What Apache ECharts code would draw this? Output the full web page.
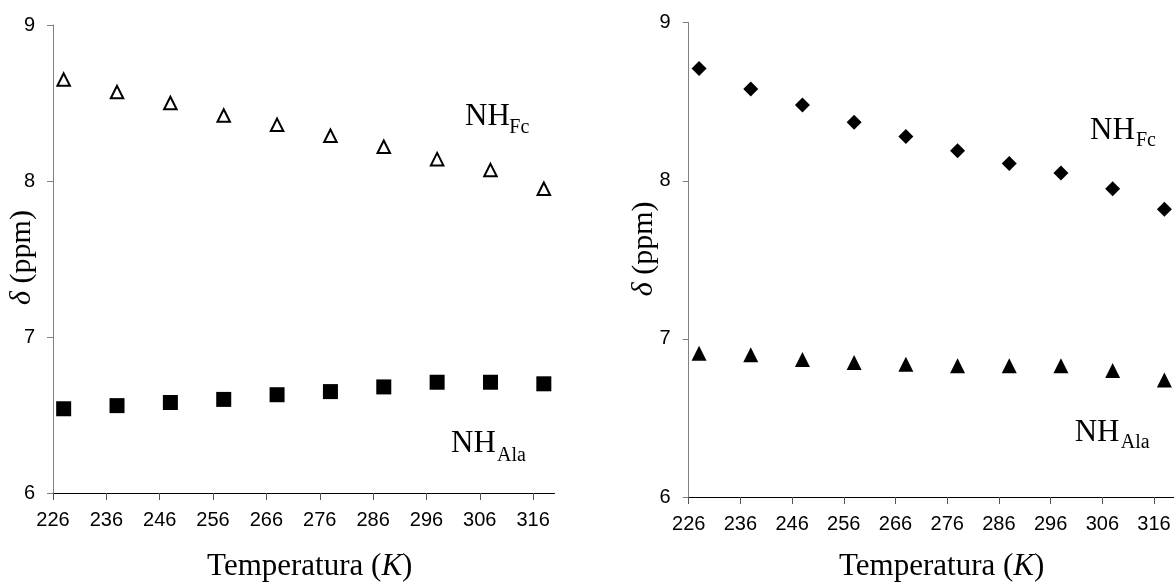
<!DOCTYPE html>
<html>
<head>
<meta charset="utf-8">
<script src="https://cdn.jsdelivr.net/npm/echarts@6/dist/echarts.min.js"></script>
<style>
html,body{margin:0;padding:0;background:#fff;}
#c{width:1174px;height:583px;}
</style>
</head>
<body>
<div id="c"></div>
<script>
// ---- data ----
const temps = [228, 238, 248, 258, 268, 278, 288, 298, 308, 318];
const xTicks = [226, 236, 246, 256, 266, 276, 286, 296, 306, 316];
const yTicks = [6, 7, 8, 9];
const leftFc  = [8.65, 8.57, 8.50, 8.42, 8.36, 8.29, 8.22, 8.14, 8.07, 7.95];
const leftAla = [6.54, 6.56, 6.58, 6.60, 6.63, 6.65, 6.68, 6.71, 6.71, 6.70];
const rightFc  = [8.71, 8.58, 8.48, 8.37, 8.28, 8.19, 8.11, 8.05, 7.95, 7.82];
const rightAla = [6.91, 6.90, 6.87, 6.85, 6.84, 6.83, 6.83, 6.83, 6.80, 6.74];

const pairs = (ys) => temps.map((t, i) => [t, ys[i]]);

const serif = 'Liberation Serif, Times New Roman, serif';
const sans = 'Liberation Sans, Arial, sans-serif';

function xAxis(gridIndex, gap, pad) {
  return {
    type: 'value', gridIndex, min: 226, max: 320,
    axisLine: { lineStyle: { color: '#000', width: 1 } },
    axisTick: { show: true, length: 7, customValues: xTicks, lineStyle: { color: '#555' } },
    axisLabel: { customValues: xTicks, margin: 17, fontSize: 20, fontFamily: sans, color: '#000' },
    splitLine: { show: false },
    name: '{n|Temperatura (}{k|K}{n|)}',
    nameLocation: 'middle', nameGap: gap, nameMoveOverlap: false,
    nameTextStyle: {
      color: '#000', fontFamily: serif, fontSize: 31, padding: pad,
      rich: {
        n: { fontFamily: serif, fontSize: 31, color: '#000' },
        k: { fontFamily: serif, fontSize: 31, fontStyle: 'italic', color: '#000' }
      }
    }
  };
}
function yAxis(gridIndex, gap, pad) {
  return {
    type: 'value', gridIndex, min: 6, max: 9, interval: 1,
    axisLine: { show: true, lineStyle: { color: '#808080', width: 1 } },
    axisTick: { show: true, length: 6, lineStyle: { color: '#808080' } },
    axisLabel: { margin: 18, fontSize: 20, fontFamily: sans, color: '#000' },
    splitLine: { show: false },
    name: '{i|δ}{n| (ppm)}',
    nameLocation: 'middle', nameRotate: 90, nameGap: gap, nameMoveOverlap: false,
    nameTextStyle: {
      color: '#000', fontFamily: serif, fontSize: 30, padding: pad,
      rich: {
        i: { fontFamily: serif, fontSize: 30, fontStyle: 'italic', color: '#000' },
        n: { fontFamily: serif, fontSize: 30, color: '#000' }
      }
    }
  };
}

function label(x, y, main, sub, subX, subY) {
  return [
    { type: 'text', x: x, y: y, style: { text: main, font: '31px ' + serif, fill: '#000', textAlign: 'left', textVerticalAlign: 'middle' } },
    { type: 'text', x: subX, y: subY, style: { text: sub, font: '20px ' + serif, fill: '#000', textAlign: 'left', textVerticalAlign: 'middle' } }
  ];
}

const chart = echarts.init(document.getElementById('c'), null, { renderer: 'canvas' });
chart.setOption({
  animation: false,
  backgroundColor: '#fff',
  grid: [
    { left: 53, top: 25, width: 501.5, height: 468, containLabel: false, outerBoundsMode: 'none' },
    { left: 688.7, top: 22.7, width: 486, height: 474.3, containLabel: false, outerBoundsMode: 'none' }
  ],
  xAxis: [xAxis(0, 58, [0, 0, 0, 12]), xAxis(1, 54, [0, 0, 0, 20])],
  yAxis: [yAxis(0, 16, [0, 0, 0, 3]), yAxis(1, 30, [0, 0, 0, 22])],
  series: [
    { type: 'scatter', xAxisIndex: 0, yAxisIndex: 0, data: pairs(leftFc), symbol: 'triangle', symbolSize: 12.5,
      itemStyle: { color: '#fff', borderColor: '#000', borderWidth: 2, opacity: 1 } },
    { type: 'scatter', xAxisIndex: 0, yAxisIndex: 0, data: pairs(leftAla), symbol: 'rect', symbolSize: 15,
      itemStyle: { color: '#000', opacity: 1 } },
    { type: 'scatter', xAxisIndex: 1, yAxisIndex: 1, data: pairs(rightFc), symbol: 'diamond', symbolSize: 15,
      itemStyle: { color: '#000', opacity: 1 } },
    { type: 'scatter', xAxisIndex: 1, yAxisIndex: 1, data: pairs(rightAla), symbol: 'triangle', symbolSize: 15,
      itemStyle: { color: '#000', opacity: 1 } }
  ],
  graphic: [].concat(
    label(465, 116.5, 'NH', 'Fc', 509.3, 127.5),
    label(451, 444.2, 'NH', 'Ala', 497, 455.5),
    label(1090, 130.5, 'NH', 'Fc', 1136, 140.9),
    label(1074.7, 432.5, 'NH', 'Ala', 1120.7, 443.2)
  )
});
</script>
</body>
</html>
